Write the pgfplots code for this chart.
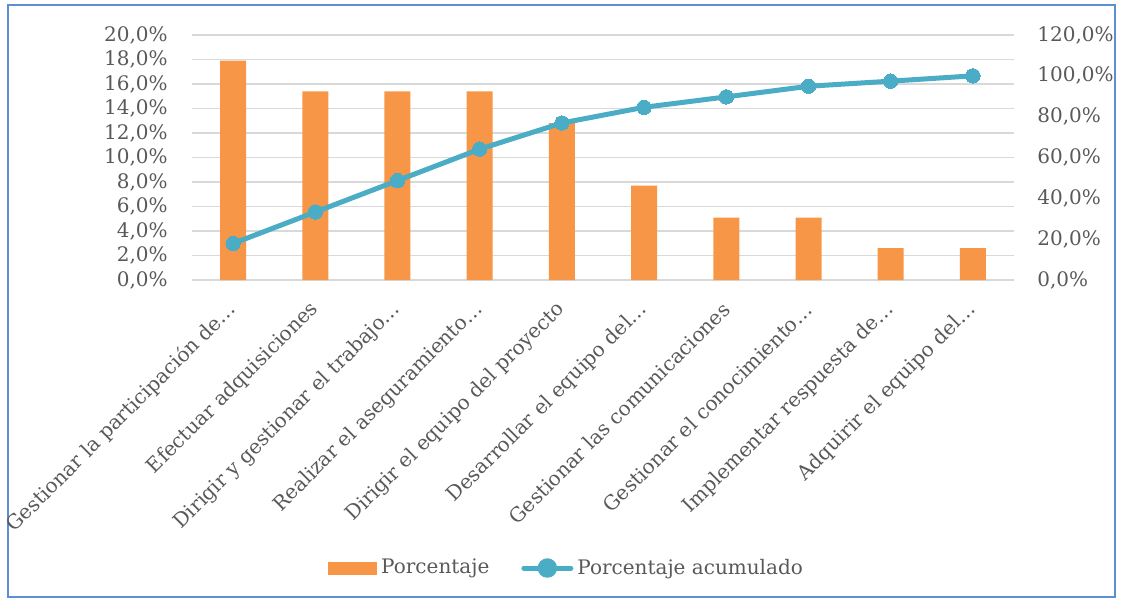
\documentclass[border=0pt]{standalone}
\usepackage{pgfplots}
\usepackage{pgfplotstable}
\pgfplotsset{compat=1.18}
\usepackage{fontspec}
\setmainfont{DejaVu Serif}

\definecolor{barorange}{HTML}{F79646}
\definecolor{cumline}{HTML}{4BACC6}
\definecolor{gridgray}{HTML}{D9D9D9}
\definecolor{txtgray}{HTML}{595959}
\definecolor{framecol}{HTML}{5B8FD0}

% share of each process (%) and running total (%)
\pgfplotstableread{
idx pct cum
0 17.9 17.9
1 15.4 33.3
2 15.4 48.7
3 15.4 64.1
4 12.8 76.9
5 7.7 84.6
6 5.1 89.7
7 5.1 94.9
8 2.6 97.4
9 2.6 100.0
}\paretodata

\pgfplotsset{
  pareto base/.style={
    at={(0,0)}, anchor=south west,
    scale only axis, width=411pt, height=122.5pt,
    xmin=-0.5, xmax=9.5,
    axis line style={draw=none},
    major tick length=0pt,
    tick style={draw=none},
    ymin=0,
  },
}

\begin{document}
\begin{tikzpicture}[font=\fontsize{10}{12}\selectfont, text=txtgray]
\useasboundingbox (-96pt,-161pt) rectangle (465.5pt,140pt);
\draw[framecol, line width=0.7pt] (-92pt,-158.5pt) rectangle (461.5pt,137.5pt);

\begin{axis}[pareto base,
  ymax=20, ytick={0,2,...,20},
  ymajorgrids, grid style={gridgray, line width=0.75pt},
  yticklabel={\pgfmathprintnumber[fixed,fixed zerofill,precision=1,use comma,assume math mode=true]{\tick}\%},
  yticklabel style={anchor=east, inner sep=0pt},
  yticklabel shift=12pt,
  xtick=data,
  xticklabels={
    Gestionar la participación de…,
    Efectuar adquisiciones,
    Dirigir y gestionar el trabajo…,
    Realizar el aseguramiento…,
    Dirigir el equipo del proyecto,
    Desarrollar el equipo del…,
    Gestionar las comunicaciones,
    Gestionar el conocimiento…,
    Implementar respuesta de…,
    Adquirir el equipo del…},
  xticklabel style={rotate=45, anchor=east, inner sep=0pt},
  xticklabel shift=13pt,
]
\addplot[ybar, bar width=13pt, fill=barorange, draw=none] table[x=idx, y=pct]{\paretodata};
\end{axis}

\begin{axis}[pareto base,
  ymax=120, ytick={0,20,...,120},
  axis x line=none, axis y line*=right,
  yticklabel={\pgfmathprintnumber[fixed,fixed zerofill,precision=1,use comma,assume math mode=true]{\tick}\%},
  yticklabel style={anchor=west, inner sep=0pt},
  yticklabel shift=11.5pt,
  legend style={at={(0.457,-1.1755)}, anchor=center, draw=none, fill=none,
    legend columns=2, font=\fontsize{10}{12}\selectfont, text=txtgray,
    /tikz/every even column/.append style={column sep=14pt}},
  legend cell align=left,
]
\addlegendimage{legend image code/.code={\fill[barorange] (0pt,-3pt) rectangle (24pt,3pt);}}
\addlegendentry{Porcentaje}
\addplot[cumline, line width=2.5pt, mark=*, mark size=3.6pt,
  mark options={solid, fill=cumline, draw=cumline, line width=0pt},
  legend image code/.code={
    \draw[cumline, line width=2.5pt, line cap=round] (1.5pt,0pt) -- (25pt,0pt);
    \fill[cumline] (13.25pt,0pt) circle (3.6pt);}]
  table[x=idx, y=cum]{\paretodata};
\addlegendentry{Porcentaje acumulado}
\end{axis}
\end{tikzpicture}
\end{document}
